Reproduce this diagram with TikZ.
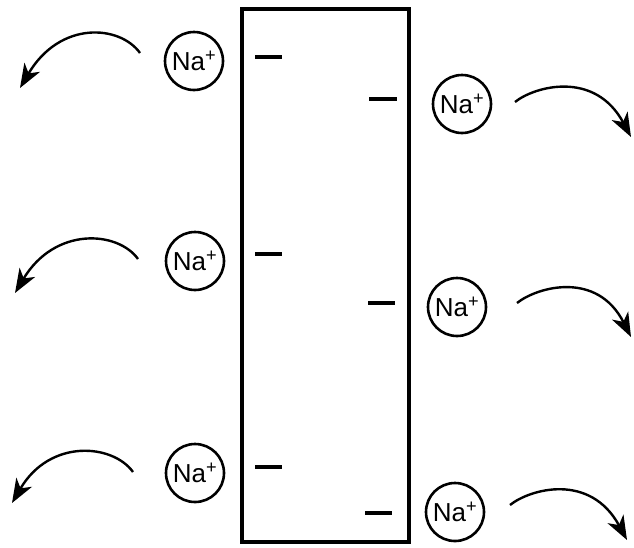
\documentclass[tikz,border=0pt]{standalone}
\usepackage{fontspec}
\setmainfont{Liberation Sans}
\usetikzlibrary{arrows.meta}
\begin{document}
\begin{tikzpicture}[x=1pt,y=-1pt,
  ion/.style={draw,circle,line width=2.6pt,minimum size=58pt,inner sep=0pt,font=\fontsize{26}{28}\selectfont},
  flow/.style={line width=2.4pt,-{Stealth[length=24pt,width=18pt,inset=7pt]}},
  bar/.style={line width=4pt}]
\useasboundingbox (0,0) rectangle (634,547);
% membrane box
\node[draw,line width=3.2pt,minimum width=167pt,minimum height=533pt,inner sep=0pt] (box) at (325.5,275.5) {};
% charges
\coordinate (l1a) at (255,57);  \coordinate (l1b) at (282,57);
\coordinate (l2a) at (255,254); \coordinate (l2b) at (282,254);
\coordinate (l3a) at (255,467); \coordinate (l3b) at (282,467);
\coordinate (r1a) at (369,99);  \coordinate (r1b) at (397,99);
\coordinate (r2a) at (368,303); \coordinate (r2b) at (395,303);
\coordinate (r3a) at (365,513); \coordinate (r3b) at (392,513);
\draw[bar] (l1a) -- (l1b);
\draw[bar] (l2a) -- (l2b);
\draw[bar] (l3a) -- (l3b);
\draw[bar] (r1a) -- (r1b);
\draw[bar] (r2a) -- (r2b);
\draw[bar] (r3a) -- (r3b);
% ions
\node[ion] (na1) at (194,61) {Na\textsuperscript{+}};
\node[ion] (na2) at (195,261) {Na\textsuperscript{+}};
\node[ion] (na3) at (195,473) {Na\textsuperscript{+}};
\node[ion] (na4) at (462,104) {Na\textsuperscript{+}};
\node[ion] (na5) at (457,307) {Na\textsuperscript{+}};
\node[ion] (na6) at (455,512) {Na\textsuperscript{+}};
% arrows
\coordinate (a1s) at (140,53);  \coordinate (a1e) at (20,88);
\coordinate (a2s) at (138,259); \coordinate (a2e) at (15,293);
\coordinate (a3s) at (133,472); \coordinate (a3e) at (12,503);
\coordinate (a4s) at (515,102); \coordinate (a4e) at (631,137);
\coordinate (a5s) at (517,303); \coordinate (a5e) at (631,337);
\coordinate (a6s) at (510,505); \coordinate (a6e) at (627,540);
\draw[flow] (a1s) .. controls (120,25) and (60,20) .. (a1e);
\draw[flow] (a2s) .. controls (118,231) and (55,226) .. (a2e);
\draw[flow] (a3s) .. controls (113,444) and (50,438) .. (a3e);
\draw[flow] (a4s) .. controls (535,86) and (595,70) .. (a4e);
\draw[flow] (a5s) .. controls (537,287) and (597,270) .. (a5e);
\draw[flow] (a6s) .. controls (530,489) and (590,472) .. (a6e);
\end{tikzpicture}
\end{document}
